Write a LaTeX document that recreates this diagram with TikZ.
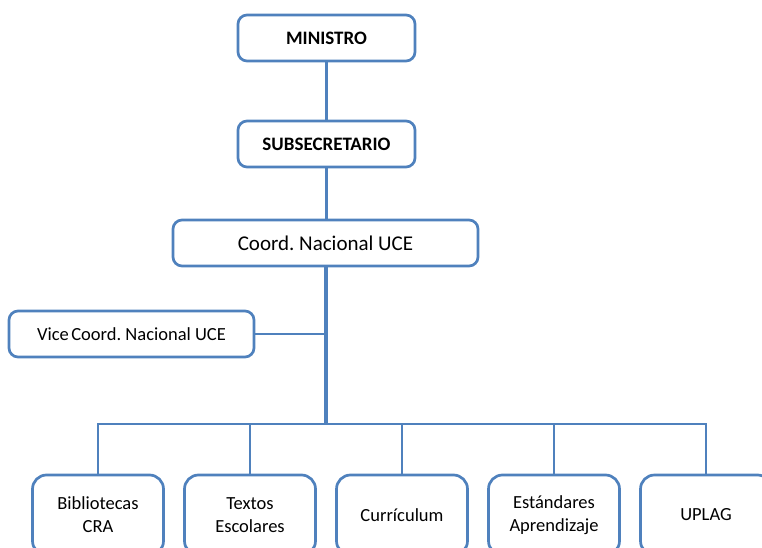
\documentclass[tikz,border=0pt]{standalone}
\usepackage{fontspec}
\setmainfont{Carlito}
\frenchspacing
\begin{document}
\begin{tikzpicture}[x=1pt,y=-1pt,
  unitbox/.style={draw=linkblue, line width=2.7pt, rounded corners=9pt, fill=white,
    align=center, inner sep=0pt, text=black},
  headbox/.style={unitbox, minimum width=177pt, minimum height=46pt,
    font=\fontsize{19}{23}\selectfont\bfseries},
  coordbox/.style={unitbox, font=\fontsize{21}{25}\selectfont},
  leafbox/.style={unitbox, rounded corners=14pt, minimum width=131pt, minimum height=80pt,
    font=\fontsize{18.5}{23}\selectfont},
  link/.style={draw=linkblue, line width=2.8pt},
  trunk/.style={draw=linkblue, line width=3.6pt}]
\definecolor{linkblue}{HTML}{4F81BD}
\useasboundingbox (0,0) rectangle (762,548);
\clip (0,0) rectangle (762,548);

% top of the hierarchy
\node[headbox] (min) at (326.5,38) {MINISTRO};
\node[headbox] (sub) at (326.5,144) {SUBSECRETARIO};
\node[coordbox, minimum width=305pt, minimum height=46pt] (coord) at (325.5,243) {Coord. Nacional UCE};
\node[unitbox, minimum width=245pt, minimum height=46pt,
  font=\fontsize{18.5}{23}\selectfont] (vice) at (131.5,334) {Vice\kern2.5pt Coord. Nacional UCE};

% units
\node[leafbox] (b1) at (98,515) {Bibliotecas\\CRA};
\node[leafbox] (b2) at (250,515) {Textos\\Escolares};
\node[leafbox] (b3) at (402,515) {Currículum};
\node[leafbox] (b4) at (554,515) {Estándares\\Aprendizaje};
\node[leafbox] (b5) at (706,515) {UPLAG};

\coordinate (bus) at (326,424);

% connectors
\draw[link] (min.south) -- (sub.north);
\draw[link] (sub.south) -- (sub.south |- coord.north);
\draw[trunk] (coord.south -| bus) -- (bus);
\draw[link] (vice.east) -- (vice.east -| bus);
\draw[link, line cap=rect] (b1.north |- bus) -- (b5.north |- bus);
\foreach \b in {b1,b2,b3,b4,b5}
  \draw[link] (\b.north) -- (\b.north |- bus);
\end{tikzpicture}
\end{document}
